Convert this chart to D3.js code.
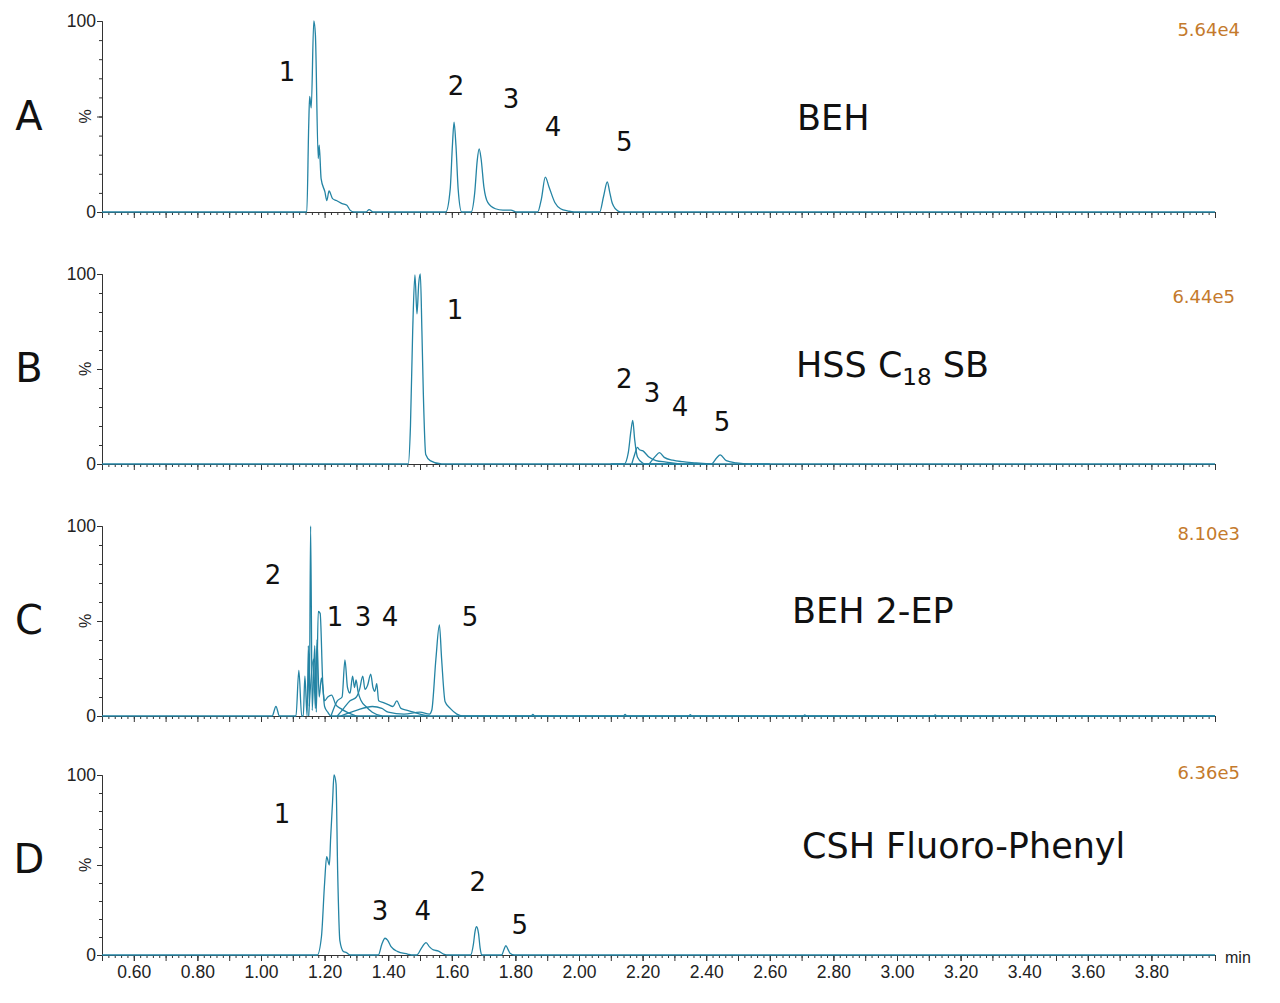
<!doctype html>
<html>
  <head>
    <title>Column screening chromatograms</title>
    <style>
      body { margin: 0; background: #fff; }
      svg { display: block; }
      .tick text { fill: #222; }
    </style>
  </head>
  <script src="https://cdnjs.cloudflare.com/ajax/libs/d3/7.8.5/d3.min.js"></script>
  <body>
    <svg id="chart" width="1280" height="1003"></svg>
    <script>

    // ---- data ----
    var panelLetters = ["A", "B", "C", "D"];
    var columnNames = ["BEH", "HSS C|18| SB", "BEH 2-EP", "CSH Fluoro-Phenyl"];
    var intensities = ["5.64e4", "6.44e5", "8.10e3", "6.36e5"];
    var xTicks = [0.6, 0.8, 1.0, 1.2, 1.4, 1.6, 1.8, 2.0, 2.2, 2.4, 2.6, 2.8, 3.0, 3.2, 3.4, 3.6, 3.8];
    var yLabelTicks = [0, 100];

    // traces: [time (min), %]
    var traceA = [[0.5,0],[1.144,0],[1.150,45],[1.153,60.5],[1.158,54.5],[1.166,100],[1.171,93],[1.180,28],[1.183,35],
      [1.189,17.5],[1.201,10.5],[1.207,6],[1.214,11],[1.225,7],[1.237,6],[1.255,4.4],[1.270,3.5],[1.280,1],[1.292,0],
      [1.330,0],[1.340,1.2],[1.352,0],
      [1.581,0],[1.595,12],[1.602,35],[1.607,47],[1.613,35],[1.620,12],[1.631,0],
      [1.661,0],[1.672,10],[1.680,27],[1.686,33],[1.692,28],[1.701,13],[1.713,5],[1.737,1.7],[1.761,1],[1.786,1],[1.804,0],
      [1.870,0],[1.882,7],[1.894,18.3],[1.906,13],[1.924,5],[1.942,1.7],[1.966,0.5],[1.984,0],
      [2.065,0],[2.077,8],[2.089,15.7],[2.097,10],[2.105,4.4],[2.123,0.5],[2.135,0],[4.0,0]];

    var traceB1 = [[0.5,0],[1.463,0],[1.470,20],[1.477,70],[1.484,99.5],[1.4905,79],[1.496,95],[1.501,100],[1.506,70],
      [1.5105,37],[1.518,5],[1.532,1.8],[1.568,0],[4.0,0]];
    var traceB2 = [[2.100,0],[2.142,0],[2.155,6],[2.163,17],[2.169,23],[2.175,13],[2.184,3.5],[2.200,0.5],[2.210,0],
      [2.416,0],[2.432,3],[2.444,4.8],[2.463,1.8],[2.495,0.6],[2.537,0],[2.600,0]];
    var traceB3 = [[2.166,0],[2.175,5],[2.184,8.8],[2.190,7.5],[2.200,7],[2.221,3.5],[2.242,1.8],[2.274,1],[2.316,0]];
    var traceB4 = [[2.221,0],[2.240,4],[2.253,6],[2.268,3.5],[2.295,2],[2.326,1.2],[2.368,0.6],[2.411,0]];

    var traceC2 = [[0.5,0],[1.035,0],[1.047,5],[1.058,0],[1.110,0],[1.119,24],[1.128,0],[1.133,0],[1.138,21],[1.145,0],
      [1.149,37],[1.152,5],[1.156,100],[1.161,3],[1.169,37],[1.174,2],[1.180,55],[1.186,54],[1.194,18],[1.200,5],
      [1.210,2],[1.220,0],[4.0,0]];
    var traceC1 = [[1.150,0],[1.165,30],[1.171,4],[1.176,40],[1.183,10],[1.190,20],[1.200,8],[1.210,10],[1.222,11],
      [1.235,6],[1.250,4],[1.270,2],[1.300,0]];
    var traceC3 = [[1.220,0],[1.240,8],[1.255,10],[1.264,29.5],[1.272,15],[1.280,12],[1.288,21],[1.294,15],[1.299,19],
      [1.305,13],[1.315,8],[1.330,5],[1.350,2],[1.380,0]];
    var traceC4 = [[1.240,0],[1.260,4],[1.280,8],[1.300,10],[1.310,14],[1.320,21],[1.327,14],[1.335,16],[1.345,22],
      [1.352,15],[1.358,13],[1.364,17],[1.370,8],[1.385,7],[1.400,6],[1.415,5],[1.427,8],[1.440,4],[1.460,3],[1.480,2],
      [1.500,1],[1.530,0]];
    var traceC5 = [[1.250,0],[1.300,3],[1.350,5],[1.380,4],[1.400,2],[1.450,1],[1.500,2],[1.530,1],[1.537,3],[1.550,30],
      [1.561,48],[1.568,30],[1.579,7.5],[1.595,4],[1.616,1],[1.632,0],[1.850,0],[1.855,0.8],[1.860,0],[2.140,0],
      [2.145,0.8],[2.150,0],[2.345,0],[2.350,0.7],[2.355,0],[2.705,0],[2.710,0.6],[2.715,0],[3.115,0],[3.120,0.6],
      [3.125,0],[4.0,0]];

    var traceD = [[0.5,0],[1.177,0],[1.190,10],[1.200,40],[1.2065,54.6],[1.215,50],[1.219,65],[1.225,85],[1.2296,100],
      [1.236,95],[1.241,47],[1.248,8],[1.259,2],[1.269,1.3],[1.280,0],
      [1.369,0],[1.380,6],[1.390,9.3],[1.398,8.3],[1.409,4.6],[1.430,1.9],[1.461,0.5],[1.472,0],
      [1.4895,0],[1.505,4],[1.519,6.9],[1.530,4.5],[1.542,2.8],[1.558,2.2],[1.574,0.5],[1.590,0],
      [1.659,0],[1.668,6],[1.673,13],[1.678,15.7],[1.684,12],[1.689,4],[1.694,0],
      [1.757,0],[1.764,3],[1.770,5.2],[1.777,3],[1.783,1],[1.797,0],[4.0,0]];

    var traces = [
      [traceA],
      [traceB1, traceB2, traceB3, traceB4],
      [traceC2, traceC1, traceC3, traceC4, traceC5],
      [traceD]
    ];

    // peak numbers: [label, time, %]
    var peaksA = [["1",1.082,73.3],["2",1.613,66],["3",1.786,59.2],["4",1.918,44.5],["5",2.142,36.6]];
    var peaksB = [["1",1.610,81],["2",2.142,44.7],["3",2.230,37.4],["4",2.318,30],["5",2.450,22.1]];
    var peaksC = [["2",1.038,74.2],["1",1.233,52.1],["3",1.321,52.1],["4",1.406,52.1],["5",1.657,52.1]];
    var peaksD = [["1",1.066,78.3],["3",1.374,24.4],["4",1.509,24.4],["2",1.682,40.6],["5",1.814,16.7]];
    var peaks = [peaksA, peaksB, peaksC, peaksD];

    // ---- layout ----
    var layout = [
      { top: 21,  zero: 212, nameX: 797, nameY: 130, ampX: 1240, ampY: 36 },
      { top: 274, zero: 464, nameX: 796, nameY: 377, ampX: 1235, ampY: 303 },
      { top: 526, zero: 716, nameX: 792, nameY: 623, ampX: 1240, ampY: 540 },
      { top: 775, zero: 955, nameX: 802, nameY: 858, ampX: 1240, ampY: 779 }
    ];

    var traceColor = "#2484a4";
    var axisColor = "#333";
    var tickFont = "'Liberation Sans', Arial, sans-serif";
    var labelFont = "'DejaVu Sans', Verdana, sans-serif";
    var svg = d3.select("#chart");

    var x = d3.scaleLinear().domain([0.5, 4.0]).range([102, 1215]);
    var minorX = d3.range(25, 201).map(function(i){ return i / 50; });
    var majorX = d3.range(5, 41).map(function(i){ return i / 10; });
    var minorY = d3.range(0, 11).map(function(i){ return i * 10; });

    function styleAxis(g) {
      g.select(".domain").attr("stroke", axisColor);
      g.selectAll(".tick line").attr("stroke", axisColor);
      g.selectAll("text").style("font-family", tickFont).style("font-size", "17.5px");
    }

    layout.forEach(function(L, i) {
      var y = d3.scaleLinear().domain([0, 100]).range([L.zero, L.top]);
      var g = svg.append("g");

      // x axis: minor + major ticks
      g.append("g").attr("transform", "translate(0," + L.zero + ")")
        .call(d3.axisBottom(x).tickValues(minorX).tickSize(3).tickSizeOuter(0).tickFormat(""))
        .call(styleAxis);
      g.append("g").attr("transform", "translate(0," + L.zero + ")")
        .call(d3.axisBottom(x).tickValues(majorX).tickSize(6).tickSizeOuter(0).tickFormat(""))
        .call(styleAxis);
      if (i === 3) {
        g.append("g").attr("transform", "translate(0," + L.zero + ")")
          .call(d3.axisBottom(x).tickValues(xTicks).tickSize(6).tickPadding(5).tickSizeOuter(0).tickFormat(d3.format(".2f")))
          .call(styleAxis);
        g.append("text").attr("x", 1225).attr("y", L.zero + 8)
          .style("font-family", tickFont).style("font-size", "16px")
          .attr("fill", "#222").text("min");
      }

      // y axis
      g.append("g").attr("transform", "translate(" + x(0.5) + ",0)")
        .call(d3.axisLeft(y).tickValues(minorY).tickSize(3).tickSizeOuter(0).tickFormat(""))
        .call(styleAxis);
      g.append("g").attr("transform", "translate(" + x(0.5) + ",0)")
        .call(d3.axisLeft(y).tickValues([0, 50, 100]).tickSize(5).tickSizeOuter(0).tickFormat(""))
        .call(styleAxis);
      g.append("g").attr("transform", "translate(" + x(0.5) + ",0)")
        .call(d3.axisLeft(y).tickValues(yLabelTicks).tickSize(5).tickPadding(1).tickSizeOuter(0))
        .call(styleAxis);
      g.append("text")
        .attr("transform", "translate(" + (x(0.5) - 11) + "," + y(50) + ") rotate(-90)")
        .attr("text-anchor", "middle")
        .style("font-family", tickFont).style("font-size", "16px")
        .attr("fill", "#222").text("%");

      // traces
      var line = d3.line()
        .x(function(d){ return x(d[0]); })
        .y(function(d){ return y(d[1]); })
        .curve(d3.curveMonotoneX);
      g.selectAll("path.trace").data(traces[i]).enter().append("path")
        .attr("class", "trace")
        .attr("d", line)
        .attr("fill", "none")
        .attr("stroke", traceColor)
        .attr("stroke-width", 1.3)
        .attr("stroke-linejoin", "round");

      // panel letter
      g.append("text").attr("x", 29).attr("y", L.zero - 82)
        .attr("text-anchor", "middle")
        .style("font-family", labelFont).style("font-size", "40px")
        .attr("fill", "#111").text(panelLetters[i]);

      // column name (with subscript support)
      var parts = columnNames[i].split("|");
      var name = g.append("text").attr("x", L.nameX).attr("y", L.nameY)
        .style("font-family", labelFont).style("font-size", "35px")
        .attr("fill", "#111");
      name.append("tspan").text(parts[0]);
      if (parts.length > 1) {
        name.append("tspan").attr("dy", 8).style("font-size", "23px").text(parts[1]);
        name.append("tspan").attr("dy", -8).text(parts[2]);
      }

      // intensity
      g.append("text").attr("x", L.ampX).attr("y", L.ampY)
        .attr("text-anchor", "end")
        .style("font-family", labelFont).style("font-size", "18px")
        .attr("fill", "#c47a2c").text(intensities[i]);

      // peak numbers
      g.selectAll("text.peak").data(peaks[i]).enter().append("text")
        .attr("class", "peak")
        .attr("x", function(d){ return x(d[1]); })
        .attr("y", function(d){ return y(d[2]); })
        .attr("dy", "0.36em")
        .attr("text-anchor", "middle")
        .style("font-family", labelFont).style("font-size", "26px")
        .attr("fill", "#111")
        .text(function(d){ return d[0]; });
    });

    </script>
  </body>
</html>
